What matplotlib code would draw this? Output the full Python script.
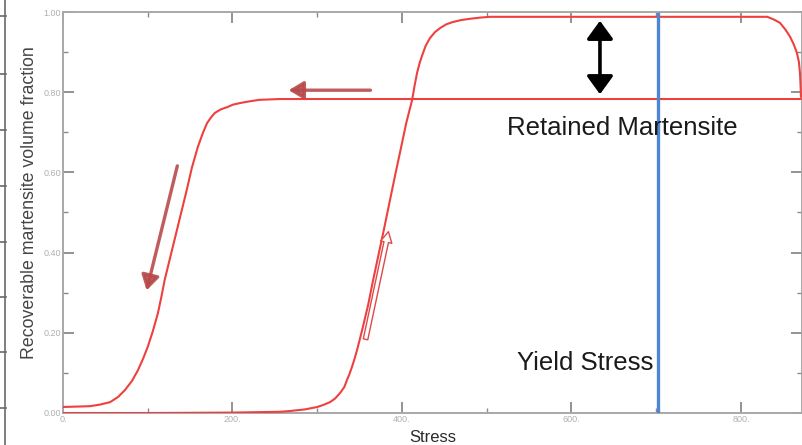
import matplotlib
matplotlib.use("Agg")
import matplotlib.pyplot as plt
from matplotlib.patches import FancyArrowPatch
from matplotlib.lines import Line2D
from matplotlib.ticker import MultipleLocator, FixedLocator, FixedFormatter

plt.rcParams['font.family'] = ['Liberation Sans', 'DejaVu Sans']

# Loading branch: stress vs recoverable martensite fraction
load_stress = [0, 103, 197, 256, 268, 285.5, 300, 307, 315, 321, 327, 332,
               335, 338, 341, 344, 347, 350, 353, 360, 366, 379, 392, 398,
               405, 412, 415, 418, 421, 424, 428, 433, 439, 445, 452, 460,
               470, 480, 492, 504, 600, 700, 800, 816.5, 831, 839, 846, 852.5,
               858, 862.3, 866, 868.4, 869.6, 870.3, 870.8]
load_frac = [0.000, 0.000, 0.001, 0.003, 0.005, 0.009, 0.015, 0.020, 0.027,
             0.036, 0.050, 0.065, 0.082, 0.097, 0.115, 0.135, 0.157, 0.182,
             0.207, 0.269, 0.332, 0.461, 0.594, 0.653, 0.723, 0.781, 0.818,
             0.850, 0.874, 0.893, 0.916, 0.935, 0.950, 0.960, 0.969, 0.975,
             0.980, 0.983, 0.986, 0.988, 0.988, 0.988, 0.988, 0.988, 0.988,
             0.981, 0.973, 0.956, 0.938, 0.919, 0.898, 0.875, 0.848, 0.818,
             0.788]

# Unloading branch
unload_stress = [870.8, 700, 500, 300, 256, 244, 232, 219.5, 209, 200.6, 194,
                 186, 179, 175, 170, 165, 159, 152, 146, 133, 120, 116, 112,
                 106, 100, 94.4, 88.5, 81.4, 73, 65, 55.5, 43.7, 32, 16.5, 0]
unload_frac = [0.783, 0.783, 0.783, 0.783, 0.783, 0.782, 0.781, 0.777, 0.773,
               0.769, 0.763, 0.757, 0.748, 0.738, 0.723, 0.698, 0.663, 0.611,
               0.556, 0.444, 0.332, 0.289, 0.249, 0.204, 0.165, 0.135, 0.107,
               0.080, 0.057, 0.040, 0.027, 0.021, 0.017, 0.016, 0.015]

yield_stress = 702
yield_top = 0.995

x_ticks = [0, 200, 400, 600, 800]
x_tick_labels = ["0.", "200.", "400.", "600.", "800."]
y_ticks = [0.0, 0.2, 0.4, 0.6, 0.8, 1.0]
y_tick_labels = ["0.00", "0.20", "0.40", "0.60", "0.80", "1.00"]

W, H = 803, 445
fig = plt.figure(figsize=(W / 100, H / 100), dpi=100)
ax = fig.add_axes([63 / W, 32 / H, 739 / W, 401 / H])
ax.set_xlim(0, 872)
ax.set_ylim(0, 1.0)

red = '#ef4040'
ax.plot(load_stress, load_frac, color=red, lw=1.5, solid_capstyle='round',
        solid_joinstyle='round', zorder=3)
ax.plot(unload_stress, unload_frac, color=red, lw=1.5, solid_capstyle='round',
        solid_joinstyle='round', zorder=3)

# Yield stress marker
ax.plot([yield_stress, yield_stress], [0, yield_top], color='#4f86d4', lw=2.4, zorder=4)

# Axis styling
for s in ax.spines.values():
    s.set_color('#a8a8a8')
    s.set_linewidth(1.4)
ax.xaxis.set_major_locator(FixedLocator(x_ticks))
ax.xaxis.set_major_formatter(FixedFormatter(x_tick_labels))
ax.yaxis.set_major_locator(FixedLocator(y_ticks))
ax.yaxis.set_major_formatter(FixedFormatter(y_tick_labels))
ax.xaxis.set_minor_locator(MultipleLocator(100))
ax.yaxis.set_minor_locator(MultipleLocator(0.1))
ax.tick_params(which='both', direction='in', top=True, right=True,
               colors='#8a8a8a', labelcolor='#b0b0b0', labelsize=6.5, pad=1.5)
ax.tick_params(which='major', length=8, width=1.3)
ax.tick_params(which='minor', length=3.5, width=1.0)

ax.set_xlabel("Stress", fontsize=12, color='#2a2a2a', labelpad=4)
ax.set_ylabel("Recoverable martensite volume fraction", fontsize=12.8,
              color='#444444')
ax.yaxis.set_label_coords(-0.034, 0.525)

# Direction arrows
arrow_red = '#b84a4a'
ax.add_patch(FancyArrowPatch((366, 0.805), (263, 0.805),
                             arrowstyle='-|>,head_length=0.5,head_width=0.3',
                             mutation_scale=18, color=arrow_red, lw=2.4,
                             alpha=0.9, zorder=5))
ax.add_patch(FancyArrowPatch((135.7, 0.623), (97.9, 0.299),
                             arrowstyle='-|>,head_length=0.5,head_width=0.3',
                             mutation_scale=18, color=arrow_red, lw=2.4,
                             alpha=0.9, zorder=5))
ax.add_patch(FancyArrowPatch((356.3, 0.177), (384.7, 0.459),
                             arrowstyle='simple,head_length=0.7,head_width=0.75,tail_width=0.3',
                             mutation_scale=11, fc='white', ec='#e04848', lw=1.0,
                             zorder=5))

# Retained fraction double arrow
ax.add_patch(FancyArrowPatch((633.6, 0.985), (633.6, 0.788),
                             arrowstyle='<|-|>,head_length=0.55,head_width=0.4',
                             mutation_scale=20, color='black', lw=2.6, zorder=5))

ax.text(523.6, 0.711, "Retained Martensite", fontsize=18.5, color='#1a1a1a',
        ha='left', va='center', zorder=6)
ax.text(535.7, 0.125, "Yield Stress", fontsize=18.5, color='#1a1a1a',
        ha='left', va='center', zorder=2)

# Window frame with tick marks along the left edge
frame_ticks = [16, 74, 130, 186, 242, 297, 352, 408]
fig.add_artist(Line2D([5.5 / W, 5.5 / W], [0, 1], transform=fig.transFigure,
                      color='#6a6a6a', lw=1.2))
for ty in frame_ticks:
    fig.add_artist(Line2D([0, 6 / W], [1 - ty / H, 1 - ty / H],
                          transform=fig.transFigure, color='#6a6a6a', lw=1.2))

fig.savefig("out.png", dpi=100)
